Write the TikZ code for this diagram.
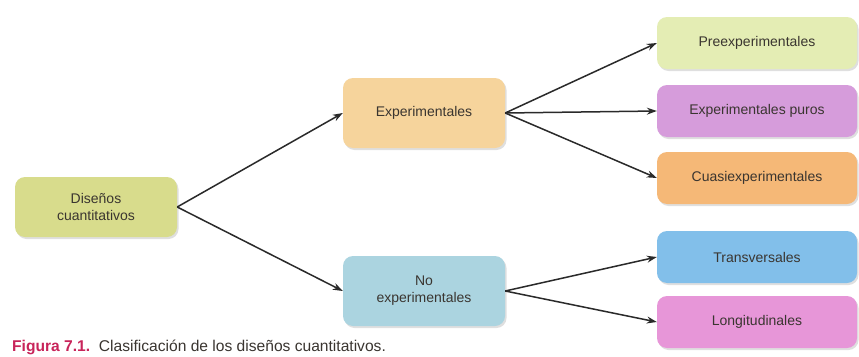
\documentclass[tikz,border=0pt]{standalone}
\usepackage{fontspec}
\setmainfont{Liberation Sans}
\usetikzlibrary{arrows.meta,shadows}
\definecolor{cDis}{HTML}{D8DC8C}
\definecolor{cExp}{HTML}{F6D49C}
\definecolor{cNoE}{HTML}{ABD4E0}
\definecolor{cPre}{HTML}{E4EDB4}
\definecolor{cPur}{HTML}{D69CDB}
\definecolor{cCua}{HTML}{F5B877}
\definecolor{cTra}{HTML}{82BFEA}
\definecolor{cLon}{HTML}{E796D8}
\definecolor{cTxt}{HTML}{3A3530}
\definecolor{cArr}{HTML}{2A2A2A}
\definecolor{cFig}{HTML}{C8245A}
\tikzset{
  box/.style={draw=none, rounded corners=10pt, align=center, text=cTxt,
    font=\fontsize{14}{17}\selectfont,
    drop shadow={opacity=0.25, shadow xshift=1.5pt, shadow yshift=-2pt}},
  midbox/.style={box, minimum width=162pt, minimum height=70pt},
  leftbox/.style={box, minimum width=162pt, minimum height=60pt},
  rightbox/.style={box, minimum width=200pt, minimum height=52pt},
  arr/.style={draw=cArr, line width=1.5pt, -{Stealth[length=10pt,width=7pt]}}
}
\begin{document}
\begin{tikzpicture}[x=1pt,y=-1pt]
\useasboundingbox[fill=white] (0,0) rectangle (859,356);
\node[leftbox, fill=cDis] (dis) at (96,207) {Diseños\\cuantitativos};
\node[midbox, fill=cExp] (exp) at (424,113) {Experimentales};
\node[midbox, fill=cNoE] (noe) at (424,291) {No\\experimentales};
\node[rightbox, fill=cPre] (pre) at (757,43) {Preexperimentales};
\node[rightbox, fill=cPur] (pur) at (757,111) {Experimentales puros};
\node[rightbox, fill=cCua] (cua) at (757,178) {Cuasiexperimentales};
\node[rightbox, fill=cTra] (tra) at (757,257) {Transversales};
\node[rightbox, fill=cLon] (lon) at (757,322) {Longitudinales};
\draw[arr] (dis.east) -- (exp.west);
\draw[arr] (dis.east) -- (noe.west);
\draw[arr] (exp.east) -- (pre.west);
\draw[arr] (exp.east) -- (pur.west);
\draw[arr] (exp.east) -- (cua.west);
\draw[arr] (noe.east) -- (tra.west);
\draw[arr] (noe.east) -- (lon.west);
\node[anchor=base west, inner sep=0pt, font=\fontsize{15.6}{18}\selectfont, text=cTxt] (cap) at (12,351)
  {\textcolor{cFig}{\textbf{Figura 7.1.}}\ \ Clasificación de los diseños cuantitativos.};
\end{tikzpicture}
\end{document}
